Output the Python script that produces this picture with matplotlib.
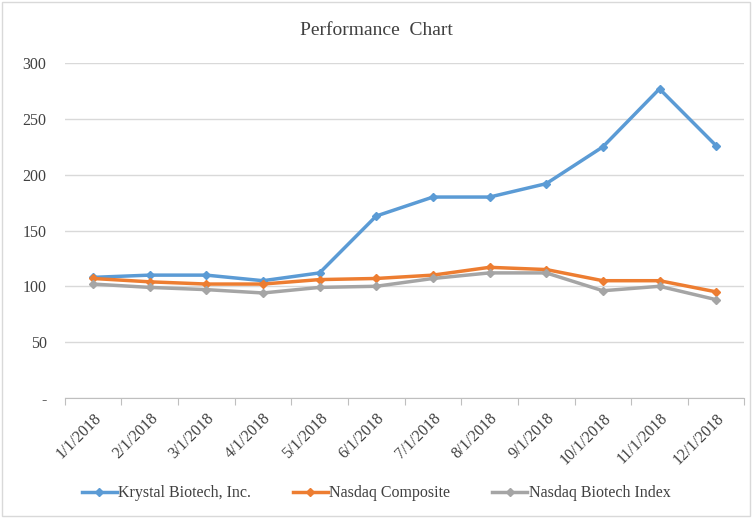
import matplotlib
matplotlib.use('Agg')
import matplotlib.pyplot as plt
from matplotlib.patches import Rectangle

# data
dates = ['1/1/2018', '2/1/2018', '3/1/2018', '4/1/2018', '5/1/2018', '6/1/2018',
         '7/1/2018', '8/1/2018', '9/1/2018', '10/1/2018', '11/1/2018', '12/1/2018']
krystal = [108, 110, 110, 105, 112, 163, 180, 180, 192, 225, 277, 226]
nasdaq_comp = [107, 104, 102, 102, 106, 107, 110, 117, 115, 105, 105, 95]
nasdaq_bio = [102, 99, 97, 94, 99, 100, 107, 112, 112, 96, 100, 88]
yticks = [0, 50, 100, 150, 200, 250, 300]
ytick_labels = ['-', '50', '100', '150', '200', '250', '300']

plt.rcParams['font.family'] = ['Liberation Serif', 'DejaVu Serif']

fig = plt.figure(figsize=(7.52, 5.18), dpi=100)
ax = fig.add_axes([0.086, 0.232, 0.904, 0.646])

x = list(range(len(dates)))
ax.plot(x, krystal, '-D', color='#5B9BD5', lw=2.5, ms=4, label='Krystal Biotech, Inc.')
ax.plot(x, nasdaq_comp, '-D', color='#ED7D31', lw=2.5, ms=4, label='Nasdaq Composite')
ax.plot(x, nasdaq_bio, '-D', color='#A5A5A5', lw=2.5, ms=4, label='Nasdaq Biotech Index')

ax.set_xlim(-0.5, len(dates) - 0.5)
ax.set_ylim(0, 300)
ax.set_yticks(yticks)
ax.set_yticklabels(ytick_labels, fontsize=11.5, color='#404040')
ax.grid(axis='y', color='#D9D9D9', lw=1)
ax.set_axisbelow(True)
ax.tick_params(axis='y', length=0, pad=13)

# category ticks between labels, labels at centers
ax.set_xticks([i - 0.5 for i in range(len(dates) + 1)])
ax.set_xticklabels([])
ax.tick_params(axis='x', which='major', length=5, color='#BFBFBF', direction='out')
ax.set_xticks(x, minor=True)
ax.set_xticklabels(dates, minor=True, rotation=45, ha='right', rotation_mode='anchor',
                   fontsize=11.5, color='#404040')
ax.tick_params(axis='x', which='minor', length=0, pad=9)

for s in ['top', 'right', 'left']:
    ax.spines[s].set_visible(False)
ax.spines['bottom'].set_color('#BFBFBF')

fig.text(0.5, 0.942, 'Performance  Chart', ha='center', va='center', fontsize=14, color='#404040')

leg = fig.legend(loc='center', bbox_to_anchor=(0.5, 0.048), ncol=3, frameon=False,
                 fontsize=11.5, handlelength=2.2, handletextpad=0.1, columnspacing=2.6)
for t in leg.get_texts():
    t.set_color('#404040')

fig.patches.append(Rectangle((0.003, 0.003), 0.994, 0.994, transform=fig.transFigure,
                             fill=False, edgecolor='#D9D9D9', lw=1))

fig.savefig('out.png', dpi=100)
